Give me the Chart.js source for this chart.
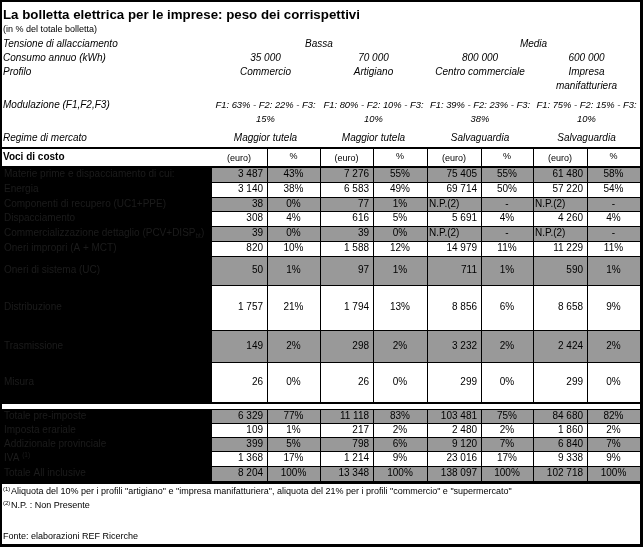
<!DOCTYPE html>
<html>
<head>
<meta charset="utf-8">
<script src="https://cdn.jsdelivr.net/npm/chart.js@4.4.0/dist/chart.umd.min.js"></script>
<style>
  html, body { margin: 0; padding: 0; background: #fff; }
  canvas { display: block; }
</style>
</head>
<body>
<canvas id="tabella" width="643" height="547"></canvas>
<script>
// dati della tabella
const titolo = 'La bolletta elettrica per le imprese: peso dei corrispettivi';
const sottotitolo = '(in % del totale bolletta)';
const tensioni = ['Bassa', 'Media'];
const consumi = [35000, 70000, 800000, 600000];
const profili = ['Commercio', 'Artigiano', 'Centro commerciale', 'Impresa manifatturiera'];
const modulazioni = ['F1: 63% - F2: 22% - F3: 15%', 'F1: 80% - F2: 10% - F3: 10%', 'F1: 39% - F2: 23% - F3: 38%', 'F1: 75% - F2: 15% - F3: 10%'];
const regimi = ['Maggior tutela', 'Maggior tutela', 'Salvaguardia', 'Salvaguardia'];

const vociCosto = ['Materie prime e dispacciamento di cui:', 'Energia', 'Componenti di recupero (UC1+PPE)', 'Dispacciamento',
  'Commercializzazione dettaglio (PCV+DISP_{bt})', 'Oneri impropri (A + MCT)', 'Oneri di sistema (UC)', 'Distribuzione',
  'Trasmissione', 'Misura'];
const vociTotali = ['Totale pre-imposte', 'Imposta erariale', 'Addizionale provinciale', 'IVA ^{(1)}', 'Totale All inclusive'];

// euro e % per profilo (prima le 10 voci, poi le 5 righe dei totali); null = N.P.
const euroCommercio = [3487, 3140, 38, 308, 39, 820, 50, 1757, 149, 26, 6329, 109, 399, 1368, 8204];
const pctCommercio = [43, 38, 0, 4, 0, 10, 1, 21, 2, 0, 77, 1, 5, 17, 100];
const euroArtigiano = [7276, 6583, 77, 616, 39, 1588, 97, 1794, 298, 26, 11118, 217, 798, 1214, 13348];
const pctArtigiano = [55, 49, 1, 5, 0, 12, 1, 13, 2, 0, 83, 2, 6, 9, 100];
const euroCentroComm = [75405, 69714, null, 5691, null, 14979, 711, 8856, 3232, 299, 103481, 2480, 9120, 23016, 138097];
const pctCentroComm = [55, 50, null, 4, null, 11, 1, 6, 2, 0, 75, 2, 7, 17, 100];
const euroManifattura = [61480, 57220, null, 4260, null, 11229, 590, 8658, 2424, 299, 84680, 1860, 6840, 9338, 102718];
const pctManifattura = [58, 54, null, 4, null, 11, 1, 9, 2, 0, 82, 2, 7, 9, 100];

const note = [
  ['(1)', 'Aliquota del 10% per i profili "artigiano" e "impresa manifatturiera", aliquota del 21% per i profili "commercio" e "supermercato"'],
  ['(2)', 'N.P. : Non Presente']
];
const fonte = 'Fonte: elaborazioni REF Ricerche';

// layout (coordinate nello spazio delle scale, 0..643 x 0..547)
const FONT = "'Liberation Sans', Arial, sans-serif";
const colEdges = [211, 267, 320, 373, 427, 481, 533, 587, 640];
const rowEdges = [167, 182, 196.5, 211, 226, 240.5, 255.5, 285, 330, 362, 402];
const totEdges = [408.5, 423, 437, 451, 466, 481];
const GRIGIO = '#999999';
const TESTO_VOCI = '#1c1c1c';

const euro = [euroCommercio, euroArtigiano, euroCentroComm, euroManifattura];
const pct = [pctCommercio, pctArtigiano, pctCentroComm, pctManifattura];

function fmt(n) {
  return String(n).replace(/\B(?=(\d{3})+(?!\d))/g, ' ');
}

const tablePlugin = {
  id: 'tabella',
  beforeDraw(chart) {
    const ctx = chart.ctx;
    ctx.save();
    ctx.fillStyle = '#fff';
    ctx.fillRect(0, 0, chart.width, chart.height);
    ctx.restore();
  },
  afterDraw(chart) {
    const { ctx, scales: { x, y } } = chart;
    const px = v => x.getPixelForValue(v);
    const py = v => y.getPixelForValue(v);

    ctx.save();
    const box = (x0, y0, x1, y1, c) => {
      ctx.fillStyle = c;
      ctx.fillRect(Math.round(px(x0)), Math.round(py(y0)), Math.round(px(x1)) - Math.round(px(x0)), Math.round(py(y1)) - Math.round(py(y0)));
    };
    const txt = (s, xv, yv, font, align, color) => {
      ctx.font = font;
      ctx.textAlign = align || 'left';
      ctx.textBaseline = 'middle';
      ctx.fillStyle = color || '#000';
      ctx.fillText(s, px(xv), py(yv));
    };
    // testo con ^{apice} e _{pedice}
    const rich = (s, xv, yv, size, color) => {
      let cx = px(xv);
      const parts = s.split(/(\^\{[^}]*\}|_\{[^}]*\})/).filter(p => p);
      ctx.textAlign = 'left';
      ctx.textBaseline = 'middle';
      ctx.fillStyle = color;
      parts.forEach(p => {
        let dy = 0, fs = size, t = p;
        if (p.startsWith('^{')) { t = p.slice(2, -1); fs = size * 0.65; dy = -size * 0.35; }
        else if (p.startsWith('_{')) { t = p.slice(2, -1); fs = size * 0.65; dy = size * 0.25; }
        ctx.font = fs + 'px ' + FONT;
        ctx.fillText(t, cx, py(yv) + dy);
        cx += ctx.measureText(t).width;
      });
    };
    const wrap = (s, font, maxW) => {
      ctx.font = font;
      const words = s.split(' ');
      const lines = [];
      let cur = '';
      words.forEach(w => {
        const t = cur ? cur + ' ' + w : w;
        if (ctx.measureText(t).width > maxW && cur) { lines.push(cur); cur = w; }
        else cur = t;
      });
      lines.push(cur);
      return lines;
    };

    const it = 'italic 10px ' + FONT;
    const itMod = 'italic 9.4px ' + FONT;
    const pairCenter = i => (colEdges[i * 2] + colEdges[i * 2 + 2]) / 2;
    const pairWidth = i => colEdges[i * 2 + 2] - colEdges[i * 2];

    // intestazione
    txt(titolo, 3, 15, 'bold 13.3px ' + FONT);
    txt(sottotitolo, 3, 30, '9px ' + FONT);
    txt('Tensione di allacciamento', 3, 44, it);
    txt('Consumo annuo (kWh)', 3, 58, it);
    txt('Profilo', 3, 72, it);
    txt('Modulazione (F1,F2,F3)', 3, 105, it);
    txt('Regime di mercato', 3, 138, it);
    tensioni.forEach((t, i) => txt(t, (colEdges[i * 4] + colEdges[i * 4 + 4]) / 2, 44, it, 'center'));
    consumi.forEach((c, i) => txt(fmt(c), pairCenter(i), 58, it, 'center'));
    profili.forEach((p, i) => {
      wrap(p, it, pairWidth(i) - 8).forEach((l, k) => txt(l, pairCenter(i), 72 + k * 14, it, 'center'));
    });
    modulazioni.forEach((m, i) => {
      wrap(m, itMod, pairWidth(i) + 2).forEach((l, k) => txt(l, pairCenter(i), 105 + k * 14, itMod, 'center'));
    });
    regimi.forEach((r, i) => txt(r, pairCenter(i), 138, it, 'center'));

    // riga "Voci di costo"
    box(0, 147, 643, 149, '#000');
    txt('Voci di costo', 3, 157, 'bold 10px ' + FONT);
    for (let i = 0; i < 4; i++) {
      txt('(euro)', (colEdges[i * 2] + colEdges[i * 2 + 1]) / 2, 159, '9px ' + FONT, 'center');
      txt('%', (colEdges[i * 2 + 1] + colEdges[i * 2 + 2]) / 2, 157, '9px ' + FONT, 'center');
    }
    for (let c = 1; c < colEdges.length - 1; c++) box(colEdges[c], 149, colEdges[c] + 1, 167, '#000');
    box(0, 165.5, 643, 167, '#000');

    // blocchi di righe
    const block = (labels, edges, offset) => {
      box(0, edges[0], colEdges[0], edges[edges.length - 1], '#000');
      labels.forEach((lab, r) => {
        const y0 = edges[r], y1 = edges[r + 1], ym = (y0 + y1) / 2;
        box(colEdges[0], y0, colEdges[8], y1, r % 2 === 0 ? GRIGIO : '#fff');
        rich(lab, 4, ym, 10, TESTO_VOCI);
        for (let i = 0; i < 4; i++) {
          const e = euro[i][offset + r], p = pct[i][offset + r];
          const f = '10px ' + FONT;
          if (e === null) txt('N.P.(2)', colEdges[i * 2] + 2, ym, f, 'left');
          else txt(fmt(e), colEdges[i * 2 + 1] - 4, ym, f, 'right');
          txt(p === null ? '-' : p + '%', (colEdges[i * 2 + 1] + colEdges[i * 2 + 2]) / 2, ym, f, 'center');
        }
      });
      edges.forEach(e => box(colEdges[0], e, colEdges[8], e + 1, '#000'));
      colEdges.forEach(c => box(c, edges[0], c + 1, edges[edges.length - 1], '#000'));
    };
    block(vociCosto, rowEdges, 0);
    box(0, 402, 643, 404, '#000');
    block(vociTotali, totEdges, vociCosto.length);
    box(0, 481, 643, 484, '#000');

    // note e fonte
    note.forEach((n, k) => {
      txt(n[0], 3, 489 + k * 14, '6px ' + FONT);
      txt(n[1], 11, 492 + k * 14, '9px ' + FONT);
    });
    txt(fonte, 3, 537, '9px ' + FONT);

    // cornice
    box(0, 0, 643, 2, '#000');
    box(0, 0, 2, 547, '#000');
    box(640, 0, 643, 547, '#000');
    box(0, 544, 643, 547, '#000');
    ctx.restore();
  }
};

new Chart(document.getElementById('tabella').getContext('2d'), {
  type: 'scatter',
  data: { datasets: [] },
  options: {
    responsive: false,
    animation: false,
    layout: { padding: 0 },
    plugins: { legend: { display: false }, tooltip: { enabled: false } },
    scales: {
      x: { type: 'linear', min: 0, max: 643, display: false },
      y: { type: 'linear', min: 0, max: 547, reverse: true, display: false }
    }
  },
  plugins: [tablePlugin]
});
</script>
</body>
</html>
